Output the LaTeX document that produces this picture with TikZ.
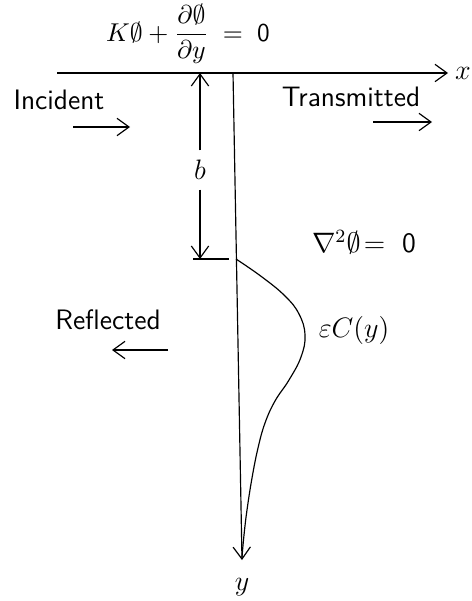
\documentclass[tikz,border=0pt]{standalone}
\usepackage{fix-cm}
\usepackage{amsmath,amssymb}
\usepackage{fontspec}
\usetikzlibrary{arrows.meta}

\begin{document}
\begin{tikzpicture}[
  x=0.015cm, y=-0.015cm,
  >={Straight Barb[length=1.8mm,width=2.6mm]},
  ln/.style={line width=0.5pt, black},
  arr/.style={->, ln},
  lbl/.style={font=\fontsize{12}{14}\selectfont\sffamily, inner sep=1pt},
  mth/.style={font=\fontsize{12}{14}\selectfont, inner sep=1pt}
]
\useasboundingbox (0,0) rectangle (471,601);

% axes
\coordinate (xstart) at (57,73);
\coordinate (xtip) at (448,73);
\coordinate (o) at (233,73);
\coordinate (ytip) at (242,560);
\draw[arr] (xstart) -- (xtip);
\draw[arr] (o) -- (ytip);
\node[mth] (labx) at (463,73) {$x$};
\node[mth] (laby) at (242,587) {$y$};

% boundary condition
\node[mth, font=\fontsize{11}{13}\selectfont] (bc) at (188,34) {$K\emptyset+\dfrac{\partial\emptyset}{\partial y}\;=\;\textsf{0}$};

% depth b
\coordinate (btop) at (200,73);
\coordinate (bbot) at (200,259);
\coordinate (tickl) at (193,259);
\coordinate (tickr) at (229,259);
\node[mth, inner sep=4pt] (lb) at (200,170) {$b$};
\draw[arr] (lb) -- (btop);
\draw[arr] (lb) -- (bbot);
\draw[ln] (tickl) -- (tickr);

% waves
\node[lbl] (inc) at (59,100) {Incident};
\coordinate (inca) at (73,127);
\coordinate (incb) at (130,127);
\draw[arr] (inca) -- (incb);

\node[lbl] (trans) at (351,97) {Transmitted};
\coordinate (tra) at (373,122);
\coordinate (trb) at (432,122);
\draw[arr] (tra) -- (trb);

\node[lbl] (refl) at (108,320) {Reflected};
\coordinate (rfa) at (168,350);
\coordinate (rfb) at (112,350);
\draw[arr] (rfa) -- (rfb);

% field equation and bump
\node[mth] (lap) at (364,242) {$\nabla^2\emptyset\!=\ \textsf{0}$};
\node[mth] (epsc) at (354,330) {$\varepsilon C(y)$};
\draw[ln] plot[smooth, tension=0.7] coordinates {(236,259) (262,277) (285,296) (299,314) (305,335) (301,357) (289,380) (275,401) (265,423) (258,448) (252,478) (247,510) (244,535) (242,557)};
\end{tikzpicture}
\end{document}
